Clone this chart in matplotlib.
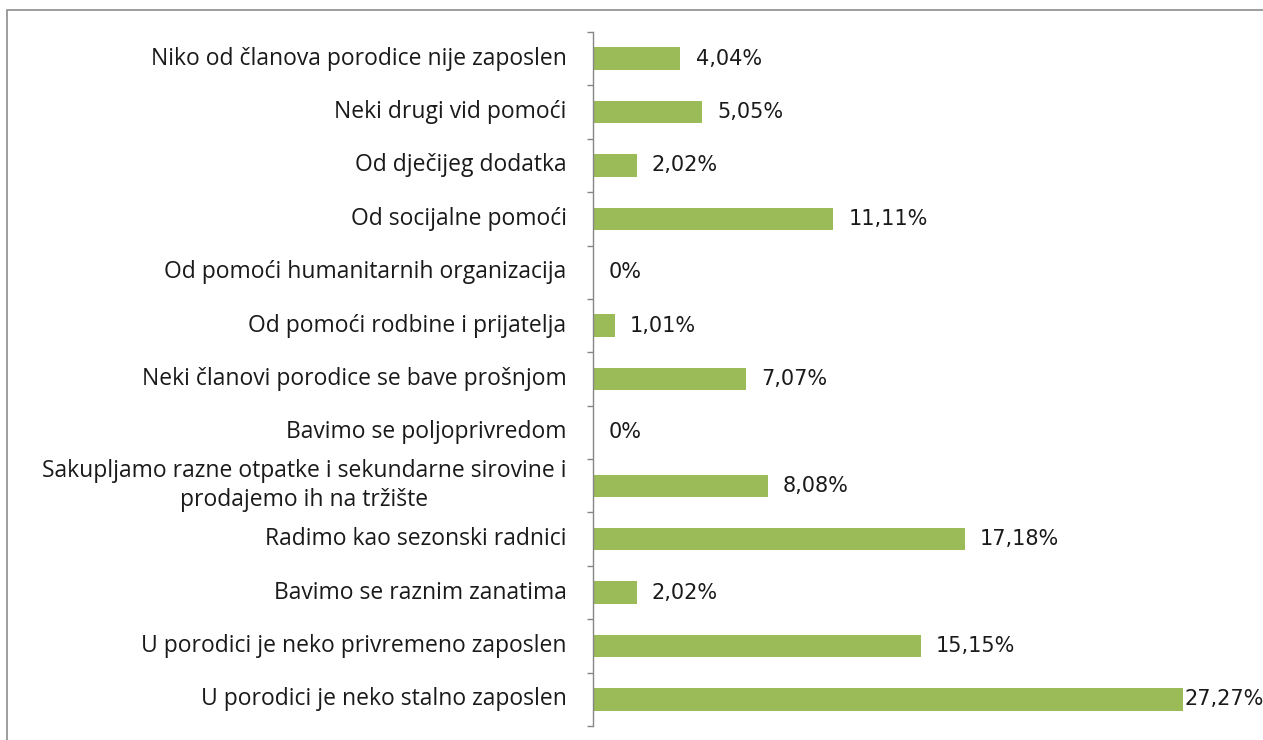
import matplotlib.pyplot as plt
import numpy as np
from matplotlib.patches import Rectangle

plt.rcParams["font.family"] = "Open Sans"

# kategorije odozgo prema dolje
categories = [
    "Niko od članova porodice nije zaposlen",
    "Neki drugi vid pomoći",
    "Od dječijeg dodatka",
    "Od socijalne pomoći",
    "Od pomoći humanitarnih organizacija",
    "Od pomoći rodbine i prijatelja",
    "Neki članovi porodice se bave prošnjom",
    "Bavimo se poljoprivredom",
    "Sakupljamo razne otpatke i sekundarne sirovine i\nprodajemo ih na tržište",
    "Radimo kao sezonski radnici",
    "Bavimo se raznim zanatima",
    "U porodici je neko privremeno zaposlen",
    "U porodici je neko stalno zaposlen",
]
values = [4.04, 5.05, 2.02, 11.11, 0, 1.01, 7.07, 0, 8.08, 17.18, 2.02, 15.15, 27.27]
value_labels = ["4,04%", "5,05%", "2,02%", "11,11%", "0%", "1,01%", "7,07%",
                "0%", "8,08%", "17,18%", "2,02%", "15,15%", "27,27%"]

fig = plt.figure(figsize=(12.63, 7.40), dpi=100)
ax = fig.add_axes([593 / 1263, 1 - 726 / 740, (1242 - 593) / 1263, (726 - 32) / 740])

# okvir oko dijagrama
fig.patches.append(Rectangle((7 / 1263, -0.1), 1.2, 1 - 10 / 740 + 0.1, transform=fig.transFigure,
                             fill=False, edgecolor='#8c8c8c', linewidth=1.2))

y = np.arange(len(categories))
bars = ax.barh(y, values, height=0.42, color='#9BBB59')

ax.set_xlim(0, 30)
ax.set_ylim(len(categories) - 0.5, -0.5)

for s in ['top', 'right', 'bottom']:
    ax.spines[s].set_visible(False)
ax.spines['left'].set_color('#868686')
ax.spines['left'].set_linewidth(1.0)
ax.set_xticks([])

# kvacice izmedju kategorija, natpisi kao tekst na sredini
ax.set_yticks(np.arange(len(categories) + 1) - 0.5)
ax.set_yticklabels([])
ax.tick_params(axis='y', which='major', direction='out', length=4, color='#868686', width=1.0)
for yi, cat in zip(y, categories):
    ax.annotate(cat, xy=(0, yi), xycoords=('axes fraction', 'data'), xytext=(-19, 0),
                textcoords='offset points', ha='right', va='center', multialignment='center',
                fontsize=16.5, color='#1a1a1a', linespacing=1.3, annotation_clip=False)

# vrijednosti pored barova
for rect, lab, v in zip(bars, value_labels, values):
    off = 1 if v == max(values) else 11
    ax.annotate(lab, xy=(rect.get_width(), rect.get_y() + rect.get_height() / 2),
                xytext=(off, 0), textcoords="offset points", ha='left', va='center',
                fontsize=15, family='DejaVu Sans', color='#1a1a1a', annotation_clip=False)

plt.savefig('out.png', dpi=100)
